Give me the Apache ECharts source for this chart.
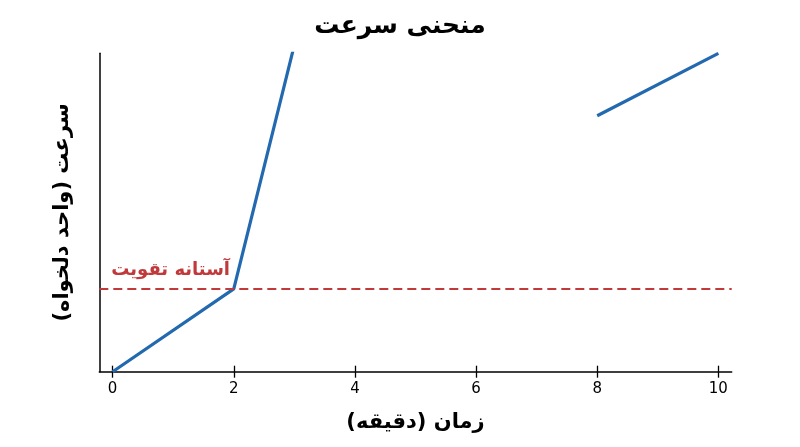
<!DOCTYPE html>
<html>
<head>
<meta charset="utf-8">
<script src="https://cdn.jsdelivr.net/npm/echarts@6/dist/echarts.min.js"></script>
<style>
html,body{margin:0;padding:0;background:#fff;}
#chart{width:800px;height:447px;}
</style>
</head>
<body>
<div id="chart"></div>
<script>
const titleText = 'منحنی سرعت';
const xName = 'زمان (دقیقه)\u200F';
const yName = 'سرعت (واحد دلخواه)\u200F';
const thresholdLabel = 'آستانه تقویت';
const xTicks = [0, 2, 4, 6, 8, 10];
const timeSeg1 = [0, 2, 3];
const speedSeg1 = [0, 1.3, 5.13];
const timeSeg2 = [8, 10];
const speedSeg2 = [4.02, 5.0];
const threshold = [1.3];

const FONT = 'DejaVu Sans';
const BLUE = '#2369b0';
const RED = '#c0393b';

const chart = echarts.init(document.getElementById('chart'), null, {renderer: 'canvas'});
const xCommon = {
  type: 'value', min: -0.22, max: 10.22, position: 'bottom',
  splitLine: {show: false}
};
chart.setOption({
  animation: false,
  backgroundColor: '#fff',
  title: {
    text: titleText, left: 'center', top: 9,
    textStyle: {fontFamily: FONT, fontSize: 25, fontWeight: 'bold', color: '#000'}
  },
  grid: {left: 99.3, right: 68.3, top: 53.3, bottom: 75.3, containLabel: false},
  xAxis: [
    Object.assign({}, xCommon, {
      name: xName, nameLocation: 'middle', nameGap: 40,
      nameTextStyle: {fontFamily: FONT, fontSize: 21, fontWeight: 'bold', color: '#000'},
      axisLine: {show: true, onZero: false, lineStyle: {color: '#000', width: 1.5}},
      axisTick: {show: true, inside: false, length: 6, lineStyle: {color: '#000', width: 1.3}, customValues: xTicks},
      axisLabel: {show: true, customValues: xTicks, margin: 10, fontFamily: FONT, fontSize: 15, color: '#000'}
    }),
    Object.assign({}, xCommon, {
      axisLine: {show: false, onZero: false},
      axisTick: {show: true, inside: true, length: 6, lineStyle: {color: '#000', width: 1.3}, customValues: xTicks},
      axisLabel: {show: false}
    })
  ],
  yAxis: {
    type: 'value', min: 0, max: 5, position: 'left',
    name: yName, nameLocation: 'middle', nameRotate: 90, nameGap: 26,
    nameTextStyle: {fontFamily: FONT, fontSize: 21, fontWeight: 'bold', color: '#000'},
    axisLine: {show: true, onZero: false, lineStyle: {color: '#000', width: 1.5}},
    axisTick: {show: false},
    axisLabel: {show: false},
    splitLine: {show: false}
  },
  series: [
    {
      type: 'line', xAxisIndex: 0, clip: true, symbol: 'none',
      data: timeSeg1.map((t, i) => [t, speedSeg1[i]]),
      lineStyle: {color: BLUE, width: 3.2},
      markLine: {
        silent: true, symbol: ['none', 'none'],
        lineStyle: {color: RED, type: [9, 5], width: 2},
        label: {
          show: true, position: 'insideStartTop', formatter: thresholdLabel,
          color: RED, fontFamily: FONT, fontSize: 18, fontWeight: 'bold', distance: [12, 10]
        },
        data: threshold.map(v => ({yAxis: v}))
      },
      z: 3
    },
    {
      type: 'line', xAxisIndex: 0, clip: true, symbol: 'none',
      data: timeSeg2.map((t, i) => [t, speedSeg2[i]]),
      lineStyle: {color: BLUE, width: 3.2},
      z: 3
    }
  ]
});
</script>
</body>
</html>
